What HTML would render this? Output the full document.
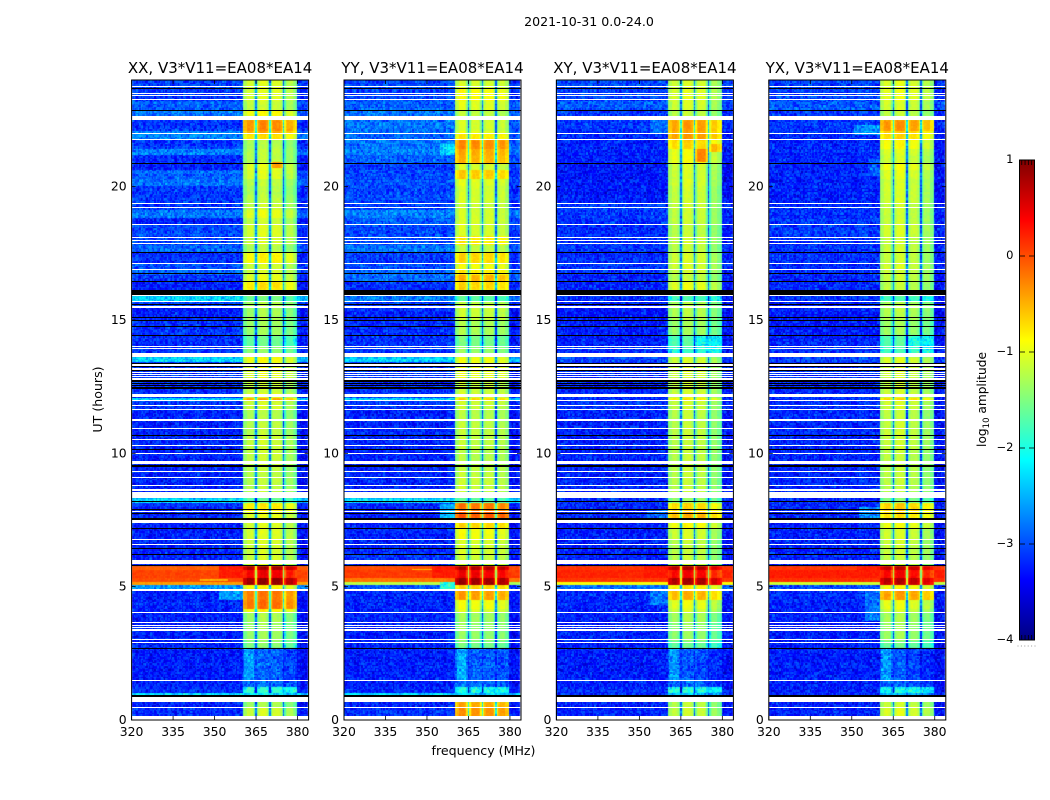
<!DOCTYPE html>
<html lang="en">
<head>
<meta charset="utf-8">
<title>2021-10-31 dynamic spectra</title>
<style>
html,body{margin:0;padding:0;background:#fff;}
#page{position:relative;width:1050px;height:800px;overflow:hidden;background:#fff;}
canvas,svg{position:absolute;left:0;top:0;}
text{font-family:"DejaVu Sans","Liberation Sans",sans-serif;fill:#000;}
</style>
</head>
<body>
<div id="page">
<canvas id="heat-xx" width="1050" height="800"></canvas>
<canvas id="heat-yy" width="1050" height="800"></canvas>
<canvas id="heat-xy" width="1050" height="800"></canvas>
<canvas id="heat-yx" width="1050" height="800"></canvas>
<svg id="chart" width="1050" height="800" viewBox="0 0 1050 800">
  <defs><linearGradient id="jet-gradient" x1="0" y1="1" x2="0" y2="0"></linearGradient></defs>
  <text x="589" y="26" font-size="12.6" text-anchor="middle">2021-10-31 0.0-24.0</text>
  <text x="483.5" y="755" font-size="12.6" text-anchor="middle">frequency (MHz)</text>
  <text transform="translate(102,399.5) rotate(-90)" font-size="12.6" text-anchor="middle">UT (hours)</text>
  <text transform="translate(986,399.5) rotate(-90)" font-size="12.2" text-anchor="middle">log<tspan font-size="8.5" dy="3">10</tspan><tspan dy="-3"> amplitude</tspan></text>
  <g id="panels"></g>
  <g id="colorbar"></g>
</svg>
</div>
<script>
// Time segments (UT hours, descending) shared by all four panels
const utEdges = [24,23.69,23.24,22.86,22.64,22.49,22.11,21.96,21.74,21.44,21.17,20.84,20.61,20.31,20.01,19.67,19.37,19.11,18.81,18.55,18.14,17.84,17.54,17.12,16.86,16.71,16.41,16.11,15.89,15.66,15.44,14.98,14.42,14.01,13.60,13.41,12.73,12.28,12.10,11.98,11.61,11.20,10.67,10.11,9.55,9.10,8.68,8.31,8.16,7.82,7.52,7.18,6.77,6.21,5.80,5.61,5.34,5.16,5.05,4.89,4.48,4.18,4.03,3.66,2.98,2.68,1.48,1.22,1.03,0.88,0.66,0.43,0.13];

// log10 amplitude outside the 360.5-380 MHz band, per segment
const offXX = [-3.04,-3.1,-2.92,-2.8,-2.98,-3.1,-2.74,-2.74,-3.1,-2.74,
 -3.16,-3.22,-2.89,-2.8,-3.1,-3.1,-3.13,-2.8,-3.22,-3.01,
 -3.04,-2.86,-3.16,-2.98,-2.92,-3.16,-3.22,-3.16,-2.3,-3.04,
 -3.25,-3.16,-3.16,-3.1,-2.3,-3.1,-3.16,-3.16,-2.3,-3.1,
 -3.19,-3.22,-3.22,-3.22,-3.19,-3.22,-3.22,-2.3,-3.19,-3.22,
 -3.22,-3.22,-3.22,-3.22,-0.1,0.05,0.0,-0.4,-2.6,-3.22,
 -3.22,-3.22,-3.22,-3.22,-3.22,-3.25,-3.22,-3.19,-2.3,-3.1,-3.22,-3.16];
const offYY = [-3.04,-3.04,-2.92,-2.8,-2.86,-2.8,-2.8,-2.86,-2.8,-2.74,
 -2.92,-3.1,-3.04,-3.01,-3.04,-3.04,-3.04,-2.74,-2.98,-3.04,
 -2.98,-2.8,-3.1,-2.98,-2.86,-2.86,-3.16,-3.16,-2.74,-3.1,
 -3.22,-3.19,-3.16,-3.1,-2.3,-3.1,-3.16,-3.1,-2.3,-3.13,
 -3.22,-3.22,-3.22,-3.22,-3.22,-3.22,-3.22,-2.25,-3.19,-3.22,
 -3.22,-3.22,-3.22,-3.16,0.0,0.1,-0.2,-1.2,-3.0,-3.22,
 -3.22,-3.22,-3.22,-3.22,-3.22,-3.25,-3.22,-3.19,-2.3,-3.1,-3.22,-3.16];
const offXY = [-3.04,-3.04,-2.92,-3.1,-3.1,-3.13,-3.16,-3.22,-3.22,-3.22,
 -3.25,-3.28,-3.28,-3.28,-3.28,-3.25,-3.1,-3.1,-3.13,-3.16,
 -3.16,-3.13,-3.16,-3.13,-3.16,-3.19,-3.22,-3.22,-3.16,-3.22,
 -3.28,-3.25,-3.22,-3.16,-3.04,-3.16,-3.22,-3.16,-3.1,-3.13,
 -3.22,-3.22,-3.22,-3.22,-3.22,-3.22,-3.22,-3.1,-3.22,-3.22,
 -3.25,-3.25,-3.22,-3.22,0.1,0.2,0.1,-0.9,-2.8,-3.19,
 -3.22,-3.22,-3.22,-3.22,-3.22,-3.25,-3.22,-3.22,-3.16,-3.16,-3.22,-3.22];
const offYX = [-3.04,-3.04,-2.92,-3.1,-3.1,-3.1,-3.1,-3.16,-3.16,-3.16,
 -3.19,-3.22,-3.22,-3.22,-3.22,-3.22,-3.13,-3.13,-3.13,-3.1,
 -3.13,-3.13,-3.13,-3.13,-3.13,-3.19,-3.19,-3.22,-3.13,-3.22,
 -3.25,-3.25,-3.22,-3.13,-3.04,-3.13,-3.16,-3.16,-3.1,-3.13,
 -3.19,-3.19,-3.19,-3.19,-3.19,-3.19,-3.19,-3.16,-3.19,-3.19,
 -3.22,-3.22,-3.22,-3.22,0.1,0.25,0.15,-1.1,-3.0,-3.16,
 -3.22,-3.22,-3.22,-3.22,-3.22,-3.25,-3.22,-3.22,-3.16,-3.16,-3.22,-3.22];

// log10 amplitude inside the 360.5-380 MHz band, per segment
const inXX = [-1.0,-1.0,-1.1,-0.85,-1.0,-0.35,-0.5,-0.7,-1.2,-1.15,
 -1.15,-0.95,-1.0,-1.15,-1.2,-1.15,-1.1,-0.95,-1.1,-1.0,
 -1.05,-1.2,-0.8,-1.05,-1.05,-0.95,-0.7,-1.0,-1.5,-1.2,
 -1.25,-1.3,-1.55,-1.35,-0.85,-0.95,-1.1,-1.0,-0.5,-1.05,
 -1.2,-1.15,-1.1,-1.1,-1.15,-1.15,-1.15,-1.6,-0.75,-0.95,
 -1.0,-1.0,-1.05,-1.05,0.75,0.4,0.85,0.85,-0.8,-0.25,
 -0.2,-0.8,-1.25,-1.3,-1.4,-2.85,-2.8,-1.85,-2.2,-1.2,-1.25,-1.05];
const inYY = [-1.0,-0.8,-0.95,-1.1,-1.0,-1.0,-0.9,-0.7,-0.3,-0.45,
 -0.5,-1.0,-0.55,-0.95,-1.0,-1.0,-1.05,-1.0,-1.0,-1.0,
 -0.7,-1.1,-0.6,-0.85,-0.7,-0.5,-0.6,-1.0,-1.6,-1.1,
 -1.05,-1.2,-1.45,-1.3,-0.85,-0.9,-1.05,-1.0,-0.6,-1.05,
 -1.15,-1.1,-1.1,-1.15,-1.1,-1.05,-1.1,-1.6,-0.2,-0.05,
 -0.6,-0.85,-1.0,-1.05,0.75,0.45,0.85,0.85,-0.6,-0.4,
 -0.85,-0.95,-1.25,-1.3,-1.45,-2.85,-2.75,-1.9,-2.3,-1.2,-0.45,-0.35];
const inXY = [-1.0,-0.95,-1.0,-1.1,-1.0,-0.4,-0.45,-0.4,-0.6,-0.85,
 -0.85,-1.0,-1.0,-1.0,-1.05,-1.05,-1.05,-1.05,-1.05,-1.1,
 -1.05,-1.1,-1.0,-1.0,-1.05,-1.1,-0.9,-1.0,-1.7,-1.15,
 -1.15,-1.25,-1.6,-1.8,-1.0,-1.0,-1.05,-1.0,-0.7,-1.05,
 -1.1,-1.1,-1.1,-1.1,-1.1,-1.1,-1.1,-1.3,-0.6,-0.5,
 -0.8,-1.0,-1.1,-1.1,0.75,0.4,0.8,0.8,-0.7,-0.5,
 -0.9,-1.0,-1.2,-1.3,-1.5,-2.9,-2.8,-1.9,-2.4,-1.2,-1.1,-1.05];
const inYX = [-0.95,-0.9,-1.0,-1.1,-1.0,-0.35,-0.55,-0.6,-0.8,-0.95,
 -1.0,-0.85,-0.95,-1.0,-1.0,-1.0,-1.05,-1.05,-1.05,-1.0,
 -1.05,-1.05,-1.05,-1.0,-1.05,-1.05,-1.1,-1.0,-1.7,-1.15,
 -1.15,-1.25,-1.6,-1.7,-0.95,-1.0,-1.05,-1.0,-0.6,-1.0,
 -1.1,-1.05,-1.05,-1.1,-1.1,-1.1,-1.15,-1.4,-0.55,-0.65,
 -0.85,-1.0,-1.05,-1.1,0.7,0.4,0.75,0.7,-0.8,-0.4,
 -0.9,-1.0,-1.2,-1.25,-1.5,-2.9,-2.8,-1.9,-2.4,-1.2,-1.05,-0.95];

// Per-subband amplitude offset (360.5-365, 365-370, 370-375, 375-380 MHz)
const subbandXX = [0,0.1,0.05,-0.12];
const subbandYY = [0.05,0,0,-0.05];
const subbandXY = [-0.03,0.05,0,-0.2];
const subbandYX = [0,0.05,-0.05,-0.2];

// Localised features: panel index, UT start, UT end, freq start, freq end, log10 amplitude
const featurePanel = [1,1,2,3,3,2,3,0,2,3,0,1,2,3,0,1,1,2,2,0,2,3,0,1,2,3];
const featureUtHi  = [21.56,8.08,22.49,22.3,21.0,7.9,8.0,4.9,4.9,4.9,5.8,5.8,5.8,5.8,5.3,5.7,5.16,21.4,21.6,20.9,14.4,14.4,2.68,2.68,2.68,2.68];
const featureUtLo  = [21.18,7.5,22.0,21.9,20.4,7.5,7.5,4.5,4.3,3.7,5.34,5.34,5.34,5.34,5.2,5.6,4.89,20.9,21.3,20.7,14.0,14.0,1.48,1.48,1.48,1.48];
const featureFLo   = [355,355,354,351,356,353,353,352,354,355,352,352,352,352,345,345,355,370.5,375.5,370.5,370.5,370.5,361,361,361,361];
const featureFHi   = [360.4,360.4,360.4,360.4,360.4,360.4,360.4,360.4,360.4,360.4,360.4,360.4,360.4,360.4,355,352,360.4,374.6,379.6,374.6,379.6,379.6,364.5,364.5,364.5,364.5];
const featureValue = [-2.3,-2.5,-2.8,-2.6,-2.9,-2.9,-2.7,-2.6,-2.8,-2.8,0.25,0.25,0.25,0.25,-0.5,-0.55,-2.0,-0.25,-0.3,-0.4,-1.9,-1.9,-2.5,-2.5,-2.5,-2.5];

// Flagged (blank) time ranges: [UT high, UT low]
const whiteFlags = [[23.75,23.71],[23.50,23.46],[23.42,23.39],[23.26,23.22],[22.64,22.49],[22.00,21.96],[21.77,21.74],[19.37,19.34],[19.22,19.19],[18.59,18.55],[18.10,18.06],[18.00,17.97],[17.87,17.84],[17.12,17.09],[16.90,16.86],[15.91,15.87],[15.70,15.66],[15.49,15.42],[14.02,13.98],[13.92,13.89],[13.75,13.60],[13.33,13.26],[13.18,13.11],[13.03,12.98],[12.96,12.91],[12.89,12.83],[12.81,12.75],[12.19,12.10],[11.97,11.93],[11.78,11.74],[11.64,11.60],[11.27,11.20],[10.93,10.90],[10.52,10.48],[10.30,10.26],[10.00,9.96],[9.68,9.57],[9.32,9.28],[9.11,9.08],[8.81,8.78],[8.65,8.57],[8.52,8.32],[7.81,7.78],[7.48,7.38],[6.77,6.73],[6.58,6.55],[5.98,5.84],[4.88,4.83],[4.05,4.01],[3.67,3.63],[3.54,3.50],[3.46,3.42],[3.38,3.33],[3.02,2.98],[2.91,2.87],[1.50,1.44],[0.83,0.67],[0.47,0.43],[0.14,0]];
const blackFlags = [[23.70,23.66],[22.86,22.82],[20.87,20.84],[17.54,17.50],[16.75,16.71],[16.45,16.41],[16.11,15.91],[15.59,15.55],[15.10,15.06],[14.97,14.93],[14.76,14.72],[14.42,14.38],[13.38,13.34],[13.25,13.22],[13.10,13.08],[12.75,12.72],[12.68,12.65],[12.62,12.58],[12.55,12.52],[12.48,12.46],[12.43,12.40],[10.67,10.63],[10.15,10.11],[9.55,9.47],[8.20,8.15],[7.89,7.85],[7.74,7.70],[7.54,7.50],[7.20,7.16],[6.43,6.40],[6.21,6.17],[5.80,5.74],[2.68,2.64],[0.92,0.85]];

// Channel texture deviations
const speckle = [-0.32,0.18,-0.05,0.27,-0.41,0.09,0.33,-0.14,-0.26,0.21,0.02,-0.37,0.3,-0.09,0.14,-0.22,0.38,-0.03,-0.3,0.11,0.24,-0.44,0.06,0.17,-0.18,0.35,-0.11,-0.28,0.2,0.04,-0.35,0.28,-0.07,0.12,-0.2,0.31,-0.39,0.08,0.22,-0.16,0.0];

// Axis tick labels
const xTicks = [320,335,350,365,380];
const yTicks = [0,5,10,15,20];
const cbarTicks = [1,0,-1,-2,-3,-4];
const cbarXMarks = [0.15,0.37,0.59,0.81];
const dipFreqs = [365,370,375];
const bandLevelShift = -0.08;

// Panel definitions
const panelNames = ['xx','yy','xy','yx'];
const panelTitles = ['XX, V3*V11=EA08*EA14','YY, V3*V11=EA08*EA14','XY, V3*V11=EA08*EA14','YX, V3*V11=EA08*EA14'];
const panelOff = [offXX,offYY,offXY,offYX];
const panelIn = [inXX,inYY,inXY,inYX];
const panelSub = [subbandXX,subbandYY,subbandXY,subbandYX];
const panelLefts = [131.6,344,556.4,768.8];
const panelWidth = 177;
const plotTop = 80;
const plotBottom = 720;
const fMin = 320, fMax = 384, utMax = 24;
const cMin = -4, cMax = 1;
const cbarTop = 160, cbarBottom = 640, cbarLeft = 1019.5, cbarWidth = 15;

const SVGNS = 'http://www.w3.org/2000/svg';
function xScale(p,f){return panelLefts[p]+(f-fMin)/(fMax-fMin)*panelWidth;}
function yScale(h){return plotBottom-h/utMax*(plotBottom-plotTop);}
function cScale(v){return cbarBottom-(v-cMin)/(cMax-cMin)*(cbarBottom-cbarTop);}
function clip(v){return Math.max(0,Math.min(1,v));}
function jet(v){
  const t=clip((v-cMin)/(cMax-cMin));
  const r=clip(Math.min(4*t-1.5,-4*t+4.5));
  const g=clip(Math.min(4*t-0.5,-4*t+3.5));
  const b=clip(Math.min(4*t+0.5,-4*t+2.5));
  return 'rgb('+Math.round(r*255)+','+Math.round(g*255)+','+Math.round(b*255)+')';
}
function segmentAt(h){
  for(let i=0;i<utEdges.length-1;i++){ if(h<=utEdges[i]&&h>utEdges[i+1]) return i; }
  return utEdges.length-2;
}
function cellValue(p,seg,h,fc,col,row){
  const inBand=fc>=360.5&&fc<=379.75;
  let v=inBand?panelIn[p][seg]:panelOff[p][seg];
  for(let k=0;k<featureValue.length;k++){
    if(featurePanel[k]===p&&h<=featureUtHi[k]&&h>featureUtLo[k]&&fc>=featureFLo[k]&&fc<featureFHi[k]) v=featureValue[k];
  }
  if(inBand){
    const sb=Math.min(3,Math.max(0,Math.floor((fc-360)/5)));
    if(v<-0.5) v+=bandLevelShift;
    v+=panelSub[p][sb];
    const weak=v<-2;
    if(!weak&&(fc===360.5||fc===379.5)) v-=0.3;
    else if(!weak&&(fc<=361.5||fc>=378.5)) v-=0.18;
    for(const d of dipFreqs){
      const gap=Math.abs(fc-d);
      if(gap===0) v-=weak?0.2:1.7;
      else if(gap===0.5&&!weak) v-=0.45;
      else if(gap===1&&!weak) v-=0.1;
    }
  } else if(fc>=380&&v<-1){
    v-=0.1;
  }
  const a=(col*col*13+row*row*7+col*row*5+p*11)%speckle.length;
  const b=(col*col*col+row*row*row*3+p)%37;
  const n=speckle[a]+0.6*speckle[b];
  return v+n*(v<-1.9?0.7:0.14);
}
function drawHeat(p){
  const cv=document.getElementById('heat-'+panelNames[p]);
  const ctx=cv.getContext('2d');
  const rows=Math.round((plotBottom-plotTop)/1.5);
  const cols=Math.round((fMax-fMin)/0.5);
  for(let r=0;r<rows;r++){
    const hHi=utMax*(1-r/rows), hLo=utMax*(1-(r+1)/rows);
    const seg=segmentAt((hHi+hLo)/2);
    const y0=Math.round(yScale(hHi)), y1=Math.round(yScale(hLo));
    for(let c=0;c<cols;c++){
      const fc=fMin+0.5*c;
      const x0=Math.round(xScale(p,Math.max(fMin,fc-0.25))), x1=Math.round(xScale(p,Math.min(fMax,fc+0.25)));
      ctx.fillStyle=jet(cellValue(p,seg,(hHi+hLo)/2,fc,c,r));
      ctx.fillRect(x0,y0,x1-x0,y1-y0);
    }
  }
}
function svgEl(tag,parent){
  const el=document.createElementNS(SVGNS,tag);
  parent.appendChild(el);
  return el;
}
function setAttrs(el,map){ for(const k in map) el.setAttribute(k,map[k]); }
function flagBox(p,fl){
  const x0=Math.round(panelLefts[p]);
  const x1=Math.round(panelLefts[p]+panelWidth);
  const y0=Math.round(yScale(fl[0])-0.5);
  const y1=Math.max(y0+1,Math.round(yScale(fl[1])-0.5));
  return {x:x0,y:y0,width:x1-x0,height:y1-y0};
}

function drawPanel(p){
  const root=document.getElementById('panels');
  const g=svgEl('g',root);
  
  
  const left=panelLefts[p], right=left+panelWidth;

  whiteFlags.forEach(function(fl){
    const r=svgEl('rect',g);
    
    
    setAttrs(r,flagBox(p,fl));
    setAttrs(r,{fill:'#fff','shape-rendering':'crispEdges'});
  });
  blackFlags.forEach(function(fl){
    const r=svgEl('rect',g);
    
    
    setAttrs(r,flagBox(p,fl));
    setAttrs(r,{fill:'#000','shape-rendering':'crispEdges'});
  });

  const frame=svgEl('rect',g);
  
  
  setAttrs(frame,{x:left,y:plotTop,width:panelWidth,height:plotBottom-plotTop,fill:'none',stroke:'#000','stroke-width':1});

  const title=svgEl('text',g);
  
  
  setAttrs(title,{x:left+panelWidth/2,y:73,'font-size':15,'text-anchor':'middle'});
  title.textContent=panelTitles[p];

  xTicks.forEach(function(t){
    const x=xScale(p,t);
    const a=svgEl('line',g);
    
    
    setAttrs(a,{x1:x,x2:x,y1:plotBottom,y2:plotBottom-4,stroke:'#000','stroke-width':0.8});
    const b=svgEl('line',g);
    
    
    setAttrs(b,{x1:x,x2:x,y1:plotTop,y2:plotTop+4,stroke:'#000','stroke-width':0.8});
    const l=svgEl('text',g);
    
    
    setAttrs(l,{x:x,y:736,'font-size':12.4,'text-anchor':'middle'});
    l.textContent=String(t);
  });
  yTicks.forEach(function(t){
    const y=yScale(t);
    const a=svgEl('line',g);
    
    
    setAttrs(a,{x1:left,x2:left+4,y1:y,y2:y,stroke:'#000','stroke-width':0.8});
    const b=svgEl('line',g);
    
    
    setAttrs(b,{x1:right,x2:right-4,y1:y,y2:y,stroke:'#000','stroke-width':0.8});
    const l=svgEl('text',g);
    
    
    setAttrs(l,{x:left-5,y:y+4,'font-size':12.4,'text-anchor':'end'});
    l.textContent=String(t);
  });
}

function drawColorbar(){
  const grad=document.getElementById('jet-gradient');
  for(let i=0;i<=40;i++){
    const s=svgEl('stop',grad);
    s.setAttribute('offset',String(i/40));
    s.setAttribute('stop-color',jet(cMin+(cMax-cMin)*i/40));
  }
  const g=document.getElementById('colorbar');
  const bar=svgEl('rect',g);
  
  
  setAttrs(bar,{x:cbarLeft,y:cbarTop,width:cbarWidth,height:cbarBottom-cbarTop,fill:'url(#jet-gradient)',stroke:'#000','stroke-width':1});
  cbarTicks.forEach(function(t){
    const y=cScale(t);
    if(t<cMax&&t>cMin){
      const a=svgEl('line',g);
      
      
      setAttrs(a,{x1:cbarLeft,x2:cbarLeft+5.5,y1:y,y2:y,stroke:'#000','stroke-width':0.8});
      const b=svgEl('line',g);
      
      
      setAttrs(b,{x1:cbarLeft+cbarWidth,x2:cbarLeft+cbarWidth-5.5,y1:y,y2:y,stroke:'#000','stroke-width':0.8});
    }
    const l=svgEl('text',g);
    
    
    setAttrs(l,{x:1013.5,y:y+3,'font-size':11.5,'text-anchor':'end'});
    l.textContent=String(t).replace('-','\u2212');
  });
  cbarXMarks.forEach(function(m){
    const x=cbarLeft+m*cbarWidth;
    const a=svgEl('line',g);
    
    
    setAttrs(a,{x1:x,x2:x,y1:cbarTop,y2:cbarTop+5,stroke:'#000','stroke-width':0.8});
    const b=svgEl('line',g);
    
    
    setAttrs(b,{x1:x,x2:x,y1:cbarBottom,y2:cbarBottom-5,stroke:'#000','stroke-width':0.8});
  });
  for(let i=0;i<6;i++){
    const d=svgEl('rect',g);
    
    
    setAttrs(d,{x:1017.5+i*3.4,y:645.5,width:1,height:1,fill:'#999'});
  }
}

for(let p=0;p<4;p++){ drawHeat(p); drawPanel(p); }
drawColorbar();
</script>
</body>
</html>
